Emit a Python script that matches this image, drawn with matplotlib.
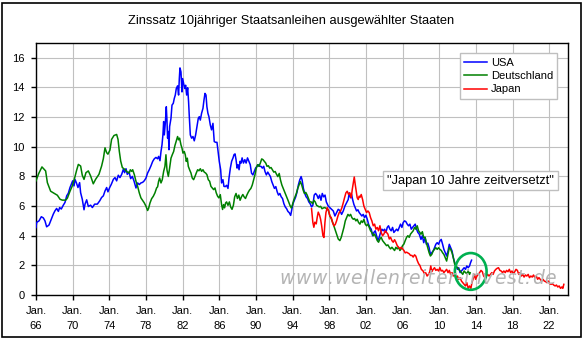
import matplotlib.pyplot as plt
from matplotlib.patches import Ellipse, Rectangle

plt.rcParams['font.family'] = ['Liberation Sans', 'DejaVu Sans']

# (decimal year, yield in %), read month by month from the series
usa = [
    (1966.00, 4.55), (1966.07, 4.9), (1966.33, 5.0), (1966.58, 5.28), (1966.80, 5.2), (1966.98, 5.0),
    (1967.16, 4.6), (1967.42, 4.72), (1967.67, 5.12), (1967.89, 5.46), (1968.07, 5.68), (1968.25, 5.84),
    (1968.44, 5.64), (1968.58, 5.9), (1968.76, 5.8), (1968.98, 6.06), (1969.16, 6.24), (1969.35, 6.69),
    (1969.53, 6.87), (1969.71, 7.25), (1969.85, 7.47), (1970.00, 7.7), (1970.15, 7.36), (1970.25, 7.8),
    (1970.40, 7.58), (1970.58, 7.25), (1970.76, 7.58), (1970.87, 6.9), (1971.05, 6.46), (1971.24, 5.75),
    (1971.35, 6.13), (1971.53, 6.42), (1971.71, 5.97), (1971.96, 6.06), (1972.15, 5.9), (1972.40, 6.13),
    (1972.69, 6.13), (1972.95, 6.35), (1973.16, 6.58), (1973.35, 6.69), (1973.53, 7.02), (1973.71, 7.25),
    (1973.85, 6.96), (1974.04, 7.25), (1974.22, 7.47), (1974.44, 7.8), (1974.62, 7.92), (1974.80, 7.7),
    (1974.98, 8.08), (1975.16, 7.92), (1975.35, 8.14), (1975.53, 8.48), (1975.67, 8.25), (1975.82, 8.52),
    (1975.96, 8.14), (1976.15, 8.3), (1976.33, 7.85), (1976.51, 8.0), (1976.69, 7.7), (1976.91, 7.22),
    (1977.09, 7.56), (1977.27, 7.45), (1977.45, 7.56), (1977.64, 7.6), (1977.82, 7.71), (1978.00, 7.89),
    (1978.18, 8.23), (1978.36, 8.45), (1978.55, 8.72), (1978.73, 9.01), (1978.91, 9.19), (1979.09, 9.28),
    (1979.27, 9.19), (1979.38, 9.35), (1979.53, 9.06), (1979.64, 9.68), (1979.75, 10.13), (1979.85, 10.8),
    (1979.93, 11.7), (1980.00, 10.8), (1980.11, 11.58), (1980.22, 12.7), (1980.29, 11.8), (1980.36, 10.58),
    (1980.44, 11.03), (1980.51, 9.8), (1980.58, 11.36), (1980.73, 11.92), (1980.84, 12.81), (1980.98, 12.93),
    (1981.09, 13.26), (1981.20, 13.49), (1981.31, 13.93), (1981.45, 14.11), (1981.56, 13.49), (1981.64, 14.6),
    (1981.71, 15.32), (1981.82, 15.05), (1981.93, 13.7), (1982.00, 14.6), (1982.11, 14.27), (1982.22, 13.93),
    (1982.33, 14.15), (1982.44, 13.49), (1982.55, 13.98), (1982.65, 13.04), (1982.73, 12.03), (1982.84, 10.8),
    (1982.98, 10.58), (1983.13, 10.69), (1983.27, 10.4), (1983.42, 10.8), (1983.56, 11.36), (1983.71, 11.92),
    (1983.82, 12.03), (1983.93, 11.8), (1984.07, 12.26), (1984.22, 12.59), (1984.33, 13.15), (1984.44, 13.6),
    (1984.55, 13.49), (1984.65, 12.7), (1984.76, 12.26), (1984.87, 12.03), (1985.02, 11.47), (1985.16, 11.14),
    (1985.31, 11.58), (1985.45, 10.35), (1985.60, 10.3), (1985.75, 10.3), (1985.89, 9.57), (1986.00, 9.01),
    (1986.15, 8.45), (1986.25, 7.56), (1986.40, 7.78), (1986.51, 7.33), (1986.65, 7.31), (1986.80, 7.4),
    (1986.95, 7.19), (1987.06, 7.88), (1987.21, 8.56), (1987.35, 9.02), (1987.50, 9.25), (1987.61, 9.47),
    (1987.72, 9.52), (1987.83, 9.13), (1987.94, 8.56), (1988.05, 8.79), (1988.16, 8.45), (1988.27, 9.02),
    (1988.38, 8.9), (1988.49, 9.25), (1988.64, 8.9), (1988.79, 9.13), (1988.93, 8.9), (1989.08, 9.25),
    (1989.23, 9.02), (1989.38, 8.79), (1989.52, 8.22), (1989.67, 8.1), (1989.82, 8.33), (1989.96, 8.56),
    (1990.11, 8.68), (1990.26, 8.79), (1990.40, 8.68), (1990.55, 8.68), (1990.70, 8.56), (1990.85, 8.68),
    (1990.99, 8.33), (1991.14, 8.1), (1991.29, 8.29), (1991.43, 8.15), (1991.58, 7.99), (1991.73, 7.65),
    (1991.88, 7.42), (1992.02, 7.19), (1992.17, 7.31), (1992.32, 6.96), (1992.46, 6.74), (1992.61, 6.85),
    (1992.76, 6.62), (1992.90, 6.51), (1993.05, 6.16), (1993.20, 5.94), (1993.35, 5.82), (1993.49, 5.64),
    (1993.64, 5.55), (1993.79, 5.37), (1993.90, 5.71), (1994.04, 6.16), (1994.19, 6.39), (1994.34, 6.62),
    (1994.49, 6.96), (1994.63, 7.42), (1994.78, 7.76), (1994.93, 7.99), (1995.04, 7.76), (1995.18, 7.19),
    (1995.33, 6.85), (1995.48, 6.62), (1995.63, 6.51), (1995.77, 6.28), (1995.92, 6.16), (1996.07, 5.94),
    (1996.21, 6.05), (1996.36, 6.74), (1996.51, 6.85), (1996.65, 6.74), (1996.80, 6.51), (1996.95, 6.74),
    (1997.10, 6.39), (1997.24, 6.85), (1997.39, 6.62), (1997.54, 6.74), (1997.68, 6.28), (1997.89, 6.0),
    (1998.07, 5.89), (1998.25, 5.78), (1998.44, 5.67), (1998.62, 5.33), (1998.80, 5.56), (1998.98, 5.78),
    (1999.16, 5.7), (1999.35, 5.44), (1999.53, 5.67), (1999.71, 6.0), (1999.89, 6.22), (2000.07, 6.44),
    (2000.18, 6.89), (2000.33, 6.56), (2000.44, 6.78), (2000.55, 6.44), (2000.69, 6.11), (2000.84, 5.89),
    (2000.98, 5.67), (2001.13, 5.75), (2001.27, 5.56), (2001.42, 5.44), (2001.56, 5.33), (2001.71, 5.44),
    (2001.85, 5.22), (2002.00, 5.38), (2002.15, 5.11), (2002.29, 4.78), (2002.44, 4.56), (2002.58, 4.44),
    (2002.73, 4.0), (2002.87, 4.22), (2003.02, 4.33), (2003.16, 4.0), (2003.31, 3.67), (2003.45, 3.89),
    (2003.60, 4.22), (2003.75, 4.44), (2003.89, 4.33), (2004.04, 4.44), (2004.18, 4.22), (2004.33, 4.56),
    (2004.47, 4.67), (2004.62, 4.44), (2004.76, 4.33), (2004.91, 4.56), (2005.05, 4.22), (2005.20, 4.33),
    (2005.35, 4.44), (2005.49, 4.33), (2005.64, 4.56), (2005.78, 4.78), (2005.93, 4.56), (2006.07, 4.89),
    (2006.22, 5.0), (2006.36, 4.95), (2006.51, 4.78), (2006.65, 4.67), (2006.80, 4.78), (2006.95, 4.44),
    (2007.09, 4.56), (2007.24, 4.67), (2007.38, 4.78), (2007.53, 4.44), (2007.67, 4.22), (2007.82, 4.11),
    (2008.01, 3.75), (2008.16, 4.0), (2008.31, 3.53), (2008.46, 3.87), (2008.60, 3.42), (2008.75, 3.5),
    (2008.90, 3.19), (2009.04, 2.74), (2009.19, 2.85), (2009.34, 2.97), (2009.49, 3.19), (2009.63, 3.42),
    (2009.78, 3.53), (2009.93, 3.42), (2010.07, 3.64), (2010.22, 3.75), (2010.37, 3.42), (2010.51, 3.08),
    (2010.66, 2.85), (2010.81, 2.63), (2010.96, 2.97), (2011.10, 3.42), (2011.25, 3.2), (2011.40, 2.97),
    (2011.54, 2.52), (2011.69, 2.18), (2011.84, 1.96), (2011.99, 1.73), (2012.13, 1.84), (2012.28, 1.51),
    (2012.43, 1.62), (2012.57, 1.73), (2012.72, 1.84), (2012.87, 1.73), (2013.01, 1.96), (2013.16, 1.84),
    (2013.31, 1.96), (2013.42, 2.18), (2013.53, 2.35),
]

deutschland = [
    (1966.00, 7.7), (1966.30, 8.2), (1966.65, 8.64), (1967.05, 8.37), (1967.24, 7.58), (1967.60, 7.0),
    (1967.96, 6.87), (1968.33, 6.73), (1968.62, 6.46), (1968.87, 6.4), (1969.24, 6.4), (1969.42, 6.53),
    (1969.71, 7.0), (1969.96, 7.36), (1970.22, 7.9), (1970.44, 8.43), (1970.62, 8.81), (1970.87, 8.7),
    (1971.05, 8.08), (1971.24, 7.8), (1971.45, 8.25), (1971.71, 8.37), (1971.96, 8.03), (1972.25, 7.5),
    (1972.50, 7.8), (1972.87, 8.14), (1973.16, 8.7), (1973.35, 9.2), (1973.53, 9.93), (1973.71, 9.6),
    (1973.85, 9.5), (1974.07, 9.78), (1974.25, 10.5), (1974.51, 10.76), (1974.80, 10.83), (1974.95, 10.5),
    (1975.09, 9.7), (1975.24, 9.04), (1975.42, 8.6), (1975.67, 8.48), (1975.96, 8.3), (1976.18, 8.23),
    (1976.29, 8.45), (1976.44, 8.34), (1976.55, 8.45), (1976.73, 8.12), (1976.91, 7.67), (1977.09, 7.33),
    (1977.27, 6.89), (1977.45, 6.55), (1977.64, 6.37), (1977.82, 6.21), (1978.00, 5.99), (1978.18, 5.7),
    (1978.29, 5.85), (1978.44, 6.21), (1978.62, 6.5), (1978.80, 6.66), (1978.98, 6.89), (1979.16, 7.22),
    (1979.27, 7.3), (1979.38, 7.67), (1979.49, 7.89), (1979.64, 7.56), (1979.78, 7.78), (1979.93, 8.34),
    (1980.07, 8.68), (1980.18, 9.46), (1980.29, 8.45), (1980.44, 8.0), (1980.58, 8.56), (1980.73, 9.23),
    (1980.87, 9.46), (1981.02, 9.68), (1981.16, 10.08), (1981.31, 10.4), (1981.45, 10.69), (1981.56, 10.47),
    (1981.67, 10.58), (1981.82, 10.13), (1981.93, 9.91), (1982.04, 9.57), (1982.18, 9.68), (1982.29, 9.46),
    (1982.40, 9.01), (1982.51, 9.23), (1982.62, 8.68), (1982.76, 8.45), (1982.91, 8.23), (1983.05, 7.89),
    (1983.20, 7.78), (1983.35, 8.0), (1983.49, 8.23), (1983.64, 8.45), (1983.78, 8.38), (1983.93, 8.52),
    (1984.07, 8.34), (1984.22, 8.45), (1984.36, 8.29), (1984.51, 8.23), (1984.65, 8.12), (1984.80, 7.78),
    (1984.95, 7.67), (1985.09, 7.33), (1985.24, 7.22), (1985.38, 7.11), (1985.53, 7.22), (1985.67, 6.89),
    (1985.82, 6.66), (1985.96, 6.55), (1986.11, 6.77), (1986.25, 6.1), (1986.36, 5.77), (1986.47, 6.1),
    (1986.58, 5.88), (1986.69, 6.21), (1986.80, 6.28), (1986.95, 6.05), (1987.10, 6.28), (1987.24, 5.94),
    (1987.39, 5.78), (1987.54, 6.05), (1987.68, 6.62), (1987.83, 6.85), (1987.98, 6.51), (1988.13, 6.74),
    (1988.27, 6.39), (1988.42, 6.62), (1988.57, 6.78), (1988.71, 6.62), (1988.86, 6.51), (1989.01, 6.74),
    (1989.15, 6.92), (1989.30, 7.08), (1989.45, 7.19), (1989.60, 7.42), (1989.74, 7.76), (1989.89, 8.1),
    (1990.04, 8.56), (1990.18, 8.79), (1990.33, 8.68), (1990.48, 8.9), (1990.63, 9.18), (1990.77, 9.13),
    (1990.92, 9.02), (1991.07, 8.9), (1991.21, 8.68), (1991.36, 8.72), (1991.51, 8.56), (1991.65, 8.6),
    (1991.80, 8.45), (1991.95, 8.29), (1992.10, 8.33), (1992.24, 8.15), (1992.39, 7.99), (1992.54, 8.2),
    (1992.68, 7.76), (1992.83, 7.42), (1992.98, 7.19), (1993.13, 6.96), (1993.27, 6.74), (1993.42, 6.51),
    (1993.57, 6.28), (1993.71, 6.05), (1993.86, 5.87), (1993.97, 6.05), (1994.12, 6.39), (1994.26, 6.62),
    (1994.41, 6.85), (1994.56, 7.19), (1994.71, 7.42), (1994.85, 7.65), (1995.00, 7.42), (1995.15, 7.08),
    (1995.29, 6.85), (1995.44, 6.92), (1995.59, 6.74), (1995.74, 6.51), (1995.88, 6.28), (1996.03, 6.28),
    (1996.18, 6.16), (1996.32, 6.39), (1996.47, 6.28), (1996.62, 6.05), (1996.76, 6.0), (1996.91, 5.94),
    (1997.06, 5.98), (1997.21, 5.82), (1997.35, 5.87), (1997.50, 5.9), (1997.65, 5.85), (1997.89, 5.75),
    (1998.07, 5.33), (1998.25, 5.11), (1998.44, 4.78), (1998.62, 4.44), (1998.80, 4.11), (1998.98, 3.78),
    (1999.16, 3.67), (1999.31, 3.89), (1999.45, 4.22), (1999.60, 4.56), (1999.75, 5.0), (1999.89, 5.22),
    (2000.04, 5.44), (2000.18, 5.33), (2000.33, 5.44), (2000.47, 5.22), (2000.62, 5.11), (2000.76, 5.16),
    (2000.91, 5.0), (2001.05, 5.11), (2001.20, 4.89), (2001.35, 4.78), (2001.49, 5.0), (2001.64, 4.89),
    (2001.78, 5.11), (2001.93, 4.78), (2002.07, 4.67), (2002.22, 4.78), (2002.36, 4.56), (2002.51, 4.33),
    (2002.65, 4.22), (2002.80, 4.0), (2002.95, 4.11), (2003.09, 3.89), (2003.24, 3.67), (2003.38, 3.56),
    (2003.53, 3.78), (2003.67, 3.89), (2003.82, 3.67), (2003.96, 3.56), (2004.11, 3.44), (2004.25, 3.33),
    (2004.40, 3.38), (2004.55, 3.22), (2004.69, 3.11), (2004.84, 3.22), (2004.98, 3.11), (2005.13, 3.0),
    (2005.27, 3.22), (2005.42, 3.11), (2005.56, 3.22), (2005.71, 3.0), (2005.85, 3.11), (2006.00, 3.33),
    (2006.15, 3.44), (2006.29, 3.67), (2006.44, 3.89), (2006.58, 4.0), (2006.73, 3.89), (2006.87, 4.11),
    (2007.02, 4.22), (2007.16, 4.33), (2007.31, 4.56), (2007.45, 4.44), (2007.60, 4.67), (2007.75, 4.33),
    (2007.89, 4.22), (2008.01, 4.1), (2008.16, 4.27), (2008.31, 3.87), (2008.46, 3.9), (2008.60, 3.53),
    (2008.75, 3.19), (2008.90, 2.85), (2009.04, 2.63), (2009.19, 2.74), (2009.34, 2.97), (2009.49, 3.08),
    (2009.63, 3.19), (2009.78, 3.08), (2009.93, 3.19), (2010.07, 3.08), (2010.22, 3.01), (2010.37, 2.85),
    (2010.51, 2.74), (2010.66, 2.52), (2010.81, 2.29), (2010.96, 2.74), (2011.10, 3.19), (2011.25, 3.08),
    (2011.40, 2.85), (2011.54, 2.52), (2011.69, 2.07), (2011.84, 1.96), (2011.99, 1.84), (2012.13, 1.73),
    (2012.28, 1.62), (2012.43, 1.51), (2012.57, 1.39), (2012.72, 1.62), (2012.87, 1.51), (2013.01, 1.44),
    (2013.16, 1.62), (2013.31, 1.39), (2013.38, 1.5),
]

# Japan is plotted ten years later than its actual date
japan = [
    (1996.07, 5.82), (1996.21, 4.91), (1996.32, 4.57), (1996.43, 4.91), (1996.58, 4.8), (1996.69, 5.25),
    (1996.80, 5.59), (1996.95, 5.37), (1997.06, 5.1), (1997.17, 4.68), (1997.31, 4.0), (1997.42, 3.88),
    (1997.53, 4.89), (1997.64, 5.56), (1997.78, 5.89), (1997.93, 5.67), (1998.07, 5.33), (1998.22, 5.22),
    (1998.36, 4.89), (1998.51, 4.67), (1998.65, 4.75), (1998.80, 5.0), (1998.95, 5.33), (1999.09, 5.56),
    (1999.24, 5.67), (1999.38, 5.89), (1999.53, 6.22), (1999.67, 6.56), (1999.82, 6.89), (1999.96, 7.0),
    (2000.11, 6.78), (2000.25, 6.89), (2000.40, 6.56), (2000.51, 7.11), (2000.62, 7.56), (2000.73, 7.96),
    (2000.84, 7.44), (2000.95, 7.0), (2001.05, 6.56), (2001.16, 6.44), (2001.27, 6.67), (2001.38, 6.6),
    (2001.49, 6.78), (2001.64, 6.44), (2001.78, 6.0), (2001.93, 5.78), (2002.07, 5.56), (2002.22, 5.67),
    (2002.36, 5.56), (2002.51, 5.22), (2002.65, 5.0), (2002.80, 4.67), (2002.95, 4.78), (2003.09, 4.44),
    (2003.24, 4.56), (2003.38, 4.33), (2003.53, 4.67), (2003.67, 4.22), (2003.82, 4.0), (2003.96, 4.11),
    (2004.11, 4.33), (2004.25, 4.22), (2004.40, 4.11), (2004.55, 3.78), (2004.69, 3.89), (2004.84, 3.67),
    (2004.98, 3.56), (2005.13, 3.73), (2005.27, 3.56), (2005.42, 3.33), (2005.56, 3.22), (2005.71, 3.11),
    (2005.85, 3.22), (2006.00, 3.11), (2006.15, 3.0), (2006.29, 2.84), (2006.44, 2.89), (2006.58, 2.84),
    (2006.73, 2.78), (2006.87, 2.67), (2007.02, 2.67), (2007.16, 2.56), (2007.31, 2.71), (2007.45, 2.62),
    (2007.60, 2.33), (2007.75, 2.11), (2007.89, 2.0), (2008.05, 1.73), (2008.24, 1.62), (2008.38, 1.44),
    (2008.53, 1.5), (2008.68, 1.28), (2008.82, 1.39), (2008.97, 1.57), (2009.08, 1.96), (2009.19, 1.57),
    (2009.34, 1.73), (2009.49, 1.84), (2009.63, 1.66), (2009.78, 1.73), (2009.93, 1.62), (2010.07, 1.84),
    (2010.22, 1.62), (2010.37, 1.66), (2010.51, 1.51), (2010.66, 1.62), (2010.81, 1.73), (2010.96, 1.51),
    (2011.10, 1.66), (2011.25, 1.39), (2011.40, 1.51), (2011.54, 1.28), (2011.69, 1.39), (2011.84, 1.17),
    (2011.99, 1.28), (2012.13, 1.06), (2012.28, 1.17), (2012.43, 0.94), (2012.57, 0.83), (2012.72, 0.72),
    (2012.87, 0.61), (2013.01, 0.83), (2013.16, 0.45), (2013.31, 0.61), (2013.46, 0.45), (2013.57, 0.83),
    (2013.75, 1.17), (2013.86, 1.39), (2013.97, 1.06), (2014.12, 1.28), (2014.26, 1.39), (2014.41, 1.51),
    (2014.56, 1.66), (2014.71, 1.57), (2014.85, 1.28), (2015.00, 1.17), (2015.15, 1.28), (2015.29, 1.39),
    (2015.44, 1.28), (2015.59, 1.39), (2015.74, 1.51), (2015.88, 1.39), (2016.03, 1.62), (2016.18, 1.73),
    (2016.32, 1.8), (2016.47, 1.84), (2016.62, 1.66), (2016.76, 1.62), (2016.91, 1.51), (2017.06, 1.62),
    (2017.21, 1.51), (2017.35, 1.66), (2017.50, 1.57), (2017.65, 1.73), (2017.79, 1.51), (2017.94, 1.62),
    (2018.09, 1.44), (2018.24, 1.57), (2018.38, 1.73), (2018.53, 1.66), (2018.68, 1.39), (2018.82, 1.51),
    (2018.97, 1.28), (2019.12, 1.39), (2019.26, 1.21), (2019.41, 1.35), (2019.56, 1.28), (2019.71, 1.39),
    (2019.85, 1.17), (2020.00, 1.28), (2020.15, 1.21), (2020.29, 1.35), (2020.44, 1.17), (2020.59, 1.28),
    (2020.74, 1.06), (2020.88, 1.17), (2021.03, 1.06), (2021.18, 0.94), (2021.32, 1.06), (2021.47, 0.94),
    (2021.62, 0.9), (2021.76, 0.83), (2021.91, 0.94), (2022.06, 0.76), (2022.21, 0.72), (2022.35, 0.76),
    (2022.50, 0.67), (2022.65, 0.61), (2022.79, 0.67), (2022.94, 0.54), (2023.09, 0.61), (2023.24, 0.45),
    (2023.38, 0.54), (2023.49, 0.45), (2023.60, 0.72),
]

tick_years = list(range(1966, 2023, 4))
tick_labels = [f"Jan.\n{y % 100:02d}" for y in tick_years]
y_ticks = list(range(0, 17, 2))

title = "Zinssatz 10jähriger Staatsanleihen ausgewählter Staaten"
note = '"Japan 10 Jahre zeitversetzt"'
watermark = "www.wellenreiter-invest.de"

W, H = 583, 340
fig = plt.figure(figsize=(W / 100, H / 100), dpi=100)
ax = fig.add_axes([36 / W, 45 / H, 531.5 / W, 252 / H])

series = [
    ("USA", usa, "#0000ff"),
    ("Deutschland", deutschland, "#008000"),
    ("Japan", japan, "#ff0000"),
]
for name, pts, col in series:
    xs, ys = zip(*pts)
    ax.plot(xs, ys, color=col, lw=1.1, label=name, zorder=3)

ax.set_xlim(1966, 2024)
ax.set_ylim(0, 17)
ax.set_xticks(tick_years)
ax.set_xticklabels(tick_labels, linespacing=1.6)
ax.set_yticks(y_ticks)
ax.tick_params(axis="both", direction="out", length=3.5, width=1, labelsize=8, colors="black")
ax.tick_params(axis="x", pad=4.5)
ax.tick_params(axis="y", pad=4.5)
ax.grid(True, color="#c0c0c0", lw=0.8)
ax.set_axisbelow(True)
for sp in ax.spines.values():
    sp.set_color("black")
    sp.set_linewidth(1.0)

# highlight ring around the end of the USA/Germany series
ax.add_patch(Ellipse((2013.44, 1.59), width=3.46, height=2.48, fill=False,
                     ec="#00b050", lw=1.9, zorder=5))

leg = ax.legend(loc="upper right", bbox_to_anchor=(0.981, 0.959), borderaxespad=0,
                fontsize=8, handlelength=2.1, handletextpad=0.3, labelspacing=0.3,
                borderpad=0.4, fancybox=False, framealpha=1)
leg.get_frame().set_edgecolor("#bfbfbf")
leg.get_frame().set_linewidth(1.0)

ax.text(0.817, 0.454, note, transform=ax.transAxes, ha="center", va="center",
        fontsize=9.3, zorder=6,
        bbox=dict(boxstyle="square,pad=0.3", fc="white", ec="#bfbfbf", lw=1.0))

fig.text(0.5, 1 - 21 / H, title, ha="center", va="center", fontsize=9.3)

# watermark with wide letter spacing, laid out one glyph at a time
renderer = fig.canvas.get_renderer()
glyphs = []
for ch in watermark:
    t = fig.text(0, 1 - 284 / H, ch, fontsize=13.5, family="DejaVu Sans", style="italic",
                 color="#b4b4b4", va="baseline", ha="left", zorder=1.5)
    glyphs.append((t, t.get_window_extent(renderer).width))
x0, x1 = 279, 556
gap = (x1 - x0 - sum(w for _, w in glyphs)) / (len(glyphs) - 1)
x = x0
for t, w in glyphs:
    t.set_x(x / W)
    x += w + gap

fig.patches.append(Rectangle((1.5 / W, 3.5 / H), (W - 4) / W, (H - 6) / H,
                             transform=fig.transFigure, fill=False, ec="black", lw=1.2))

fig.savefig("out.png", dpi=100)
